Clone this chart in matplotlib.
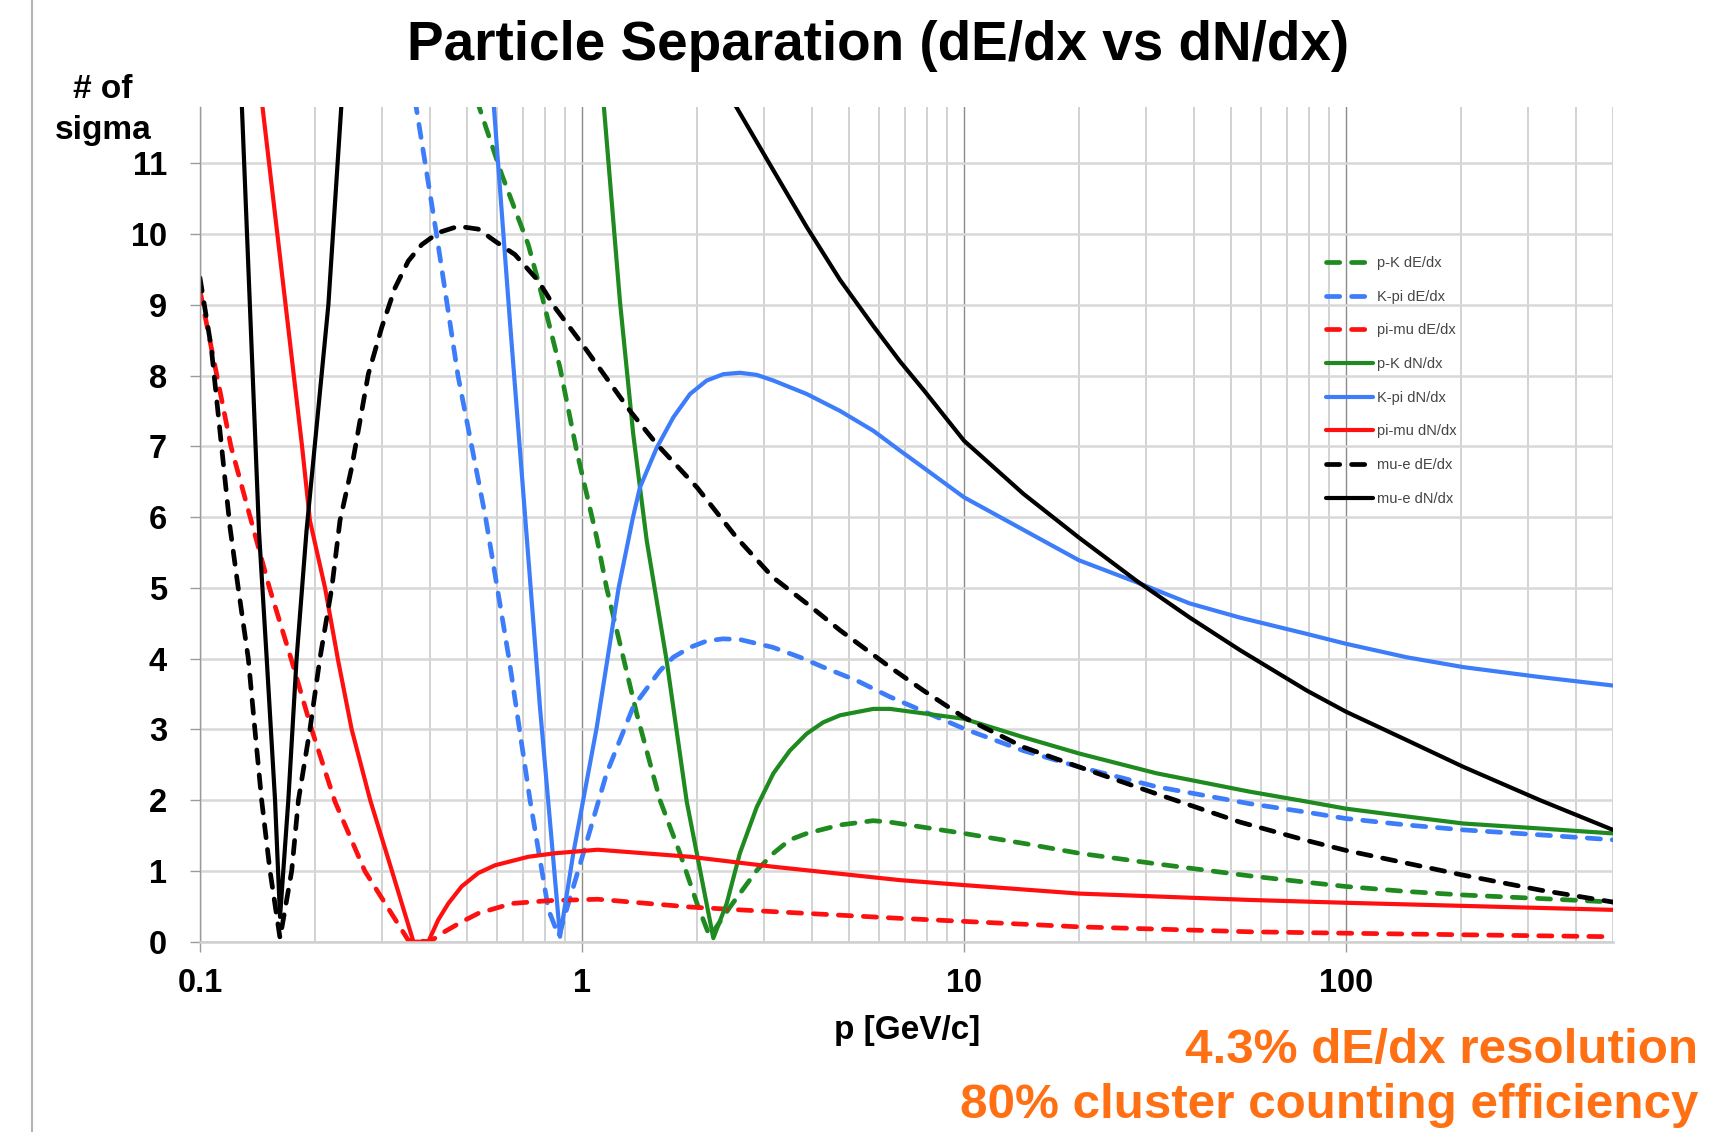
import matplotlib
matplotlib.use("Agg")
import matplotlib.pyplot as plt
from matplotlib.lines import Line2D
from matplotlib.ticker import LogLocator, FixedLocator, NullFormatter

plt.rcParams['font.family'] = ['Liberation Sans', 'DejaVu Sans']

# ---- data: momentum p [GeV/c] and separation [# of sigma]
pK_dEdx_p = [0.53, 0.6166, 0.7235, 0.776, 0.876, 0.968, 1.093, 1.16, 1.391, 1.6, 1.805,
             2.0, 2.16, 2.44, 2.87, 3.17, 3.5, 3.875, 4.74, 5.78, 6.4, 10, 14.3, 20, 31.9,
             56, 78.9, 100, 144, 203, 322, 500]
pK_dEdx_s = [11.9, 10.84, 9.85, 9.24, 8.11, 6.94, 5.71, 5.0, 3.22, 2.0, 1.25,
             0.54, 0.07, 0.49, 1.01, 1.25, 1.44, 1.53, 1.65, 1.71, 1.69, 1.53, 1.39, 1.25, 1.1,
             0.93, 0.84, 0.78, 0.71, 0.66, 0.61, 0.56]

Kpi_dEdx_p = [0.3654, 0.416, 0.4735, 0.559, 0.644, 0.731, 0.817, 0.869, 1.008, 1.16, 1.362,
              1.6, 1.734, 1.92, 2.12, 2.34, 2.592, 3.16, 3.72, 4.28, 5.24, 6.4, 10, 14.3, 20,
              31.9, 56, 78.9, 100, 144, 203, 322, 500]
Kpi_dEdx_s = [11.9, 10.0, 8.0, 6.0, 4.0, 2.0, 0.45, 0.08, 1.25, 2.38, 3.32,
              3.83, 4.02, 4.16, 4.25, 4.28, 4.27, 4.16, 4.02, 3.88, 3.69, 3.46, 3.01, 2.7, 2.47,
              2.19, 1.95, 1.83, 1.74, 1.65, 1.58, 1.51, 1.44]

pimu_dEdx_p = [0.1, 0.1205, 0.152, 0.1738, 0.196, 0.2256, 0.27, 0.351, 0.4, 0.43, 0.484,
               0.535, 0.655, 0.817, 1.1, 1.92, 2.59, 6.8, 20, 56, 100, 500]
pimu_dEdx_s = [9.2, 7.0, 5.0, 3.97, 3.0, 1.98, 1.0, 0.02, 0.0, 0.12, 0.28,
               0.4, 0.54, 0.58, 0.6, 0.49, 0.45, 0.33, 0.21, 0.14, 0.12, 0.07]

pK_dNdx_p = [1.137, 1.257, 1.362, 1.477, 1.666, 1.88, 2.077, 2.207, 2.392, 2.59, 2.866,
             3.17, 3.5, 3.875, 4.28, 4.74, 5.79, 6.4, 10, 14.3, 20, 31.9, 56, 78.9, 100,
             144, 203, 322, 500]
pK_dNdx_s = [11.9, 9.05, 7.17, 5.67, 3.97, 1.98, 0.78, 0.05, 0.54, 1.25, 1.9,
             2.38, 2.7, 2.94, 3.1, 3.2, 3.29, 3.29, 3.15, 2.89, 2.66, 2.38, 2.12, 1.98, 1.88,
             1.77, 1.67, 1.6, 1.53]

Kpi_dNdx_p = [0.586, 0.648, 0.71, 0.776, 0.8245, 0.876, 0.949, 1.093, 1.247, 1.36, 1.418,
              1.569, 1.734, 1.918, 2.12, 2.344, 2.592, 2.866, 3.17, 3.875, 4.74, 5.79, 6.8,
              7.83, 10, 20, 28.3, 39.0, 52.8, 78.9, 100, 144, 203, 322, 500]
Kpi_dNdx_s = [11.9, 8.75, 6.0, 3.32, 1.7, 0.07, 1.25, 3.03, 5.0, 6.0, 6.42,
              6.98, 7.41, 7.74, 7.93, 8.02, 8.04, 8.01, 7.93, 7.74, 7.5, 7.22, 6.94,
              6.7, 6.28, 5.39, 5.08, 4.78, 4.58, 4.35, 4.21, 4.02, 3.88, 3.74, 3.62]

pimu_dNdx_p = [0.145, 0.1594, 0.185, 0.194, 0.2125, 0.23, 0.2495, 0.279, 0.318, 0.362,
               0.396, 0.4205, 0.4467, 0.484, 0.535, 0.592, 0.7235, 0.85, 1.1, 1.92, 3.16,
               6.8, 10, 20, 56, 100, 500]
pimu_dNdx_s = [11.9, 10.0, 7.0, 5.95, 5.0, 3.97, 3.0, 2.0, 1.0, 0.0,
               0.0, 0.31, 0.54, 0.78, 0.97, 1.08, 1.2, 1.25, 1.3, 1.2, 1.06,
               0.87, 0.8, 0.68, 0.59, 0.55, 0.45]

mue_dEdx_p = [0.1, 0.107, 0.1198, 0.1259, 0.1338, 0.1392, 0.145, 0.1525, 0.162,
              0.1738, 0.181, 0.194, 0.206, 0.2213, 0.2325, 0.2495, 0.2758, 0.299, 0.324,
              0.351, 0.3805, 0.4205, 0.4745, 0.535, 0.592, 0.6675, 0.768, 0.85, 1.0, 1.336,
              1.57, 2.0, 2.54, 3.16, 3.875, 4.74, 6.4, 7.83, 10, 14.3, 20, 31.9, 52.8, 78.9,
              100, 144, 203, 322, 500]
mue_dEdx_s = [9.38, 8.4, 5.86, 5.0, 4.0, 3.0, 2.0, 1.0, 0.05,
              1.0, 2.0, 3.0, 4.0, 5.0, 5.95, 6.7, 8.02, 8.68, 9.24,
              9.62, 9.85, 10.02, 10.11, 10.07, 9.9, 9.71, 9.34, 8.96, 8.45, 7.5,
              7.03, 6.42, 5.71, 5.15, 4.78, 4.4, 3.88, 3.55, 3.17, 2.75, 2.47, 2.09, 1.69, 1.43,
              1.29, 1.11, 0.94, 0.73, 0.56]

# mu-e dN/dx goes off scale between the two branches
mue_dNdx_low_p = [0.1285, 0.1427, 0.1495, 0.1572, 0.162, 0.1703, 0.179, 0.19, 0.2168, 0.235]
mue_dNdx_low_s = [11.9, 5.8, 4.0, 2.0, 0.35, 2.0, 4.0, 5.8, 9.0, 11.9]
mue_dNdx_high_p = [2.47, 3.17, 3.875, 4.74, 5.79, 6.8, 7.83, 10, 14.3, 20, 28.3, 39.0, 52.8,
                   78.9, 100, 144, 203, 322, 500]
mue_dNdx_high_s = [11.9, 10.9, 10.1, 9.35, 8.7, 8.2, 7.8, 7.08, 6.33, 5.71, 5.1, 4.58, 4.12,
                   3.55, 3.25, 2.85, 2.47, 2.0, 1.58]

x_ticks = [0.1, 1, 10, 100]
x_tick_labels = ['0.1', '1', '10', '100']
y_ticks = list(range(0, 12))

GREEN = '#1f8a1f'
BLUE = '#3d7dfa'
RED = '#ff1010'
BLACK = '#000000'
DASH = (0, (2.8, 2.5))

W, H = 1711, 1132
fig = plt.figure(figsize=(W / 100, H / 100), dpi=100)
ax = fig.add_axes([200 / W, 1 - 941.7 / H, (1613 - 200) / W, (941.7 - 106.7) / H])

dkw = dict(lw=3.4, linestyle=DASH, dash_capstyle='round', dash_joinstyle='round')
skw = dict(lw=3.0, solid_capstyle='round', solid_joinstyle='round')

ax.plot(pK_dEdx_p, pK_dEdx_s, color=GREEN, label='p-K dE/dx', **dkw)
ax.plot(Kpi_dEdx_p, Kpi_dEdx_s, color=BLUE, label='K-pi dE/dx', **dkw)
ax.plot(pimu_dEdx_p, pimu_dEdx_s, color=RED, label='pi-mu dE/dx', **dkw)
ax.plot(pK_dNdx_p, pK_dNdx_s, color=GREEN, label='p-K dN/dx', **skw)
ax.plot(Kpi_dNdx_p, Kpi_dNdx_s, color=BLUE, label='K-pi dN/dx', **skw)
ax.plot(pimu_dNdx_p, pimu_dNdx_s, color=RED, label='pi-mu dN/dx', **skw)
ax.plot(mue_dEdx_p, mue_dEdx_s, color=BLACK, label='mu-e dE/dx', **dkw)
ax.plot(mue_dNdx_low_p, mue_dNdx_low_s, color=BLACK, label='mu-e dN/dx', **skw)
ax.plot(mue_dNdx_high_p, mue_dNdx_high_s, color=BLACK, **skw)

ax.set_xscale('log')
ax.set_xlim(0.1, 500)
ax.set_ylim(0, 11.8)

ax.xaxis.set_major_locator(FixedLocator(x_ticks))
ax.set_xticklabels(x_tick_labels)
ax.xaxis.set_minor_locator(LogLocator(base=10, subs=range(2, 10)))
ax.xaxis.set_minor_formatter(NullFormatter())
ax.set_yticks(y_ticks)

for lab in ax.get_xticklabels() + ax.get_yticklabels():
    lab.set_fontweight('bold')
ax.tick_params(axis='both', which='major', labelsize=23.5, length=7.2, width=1.0,
               color='#9a9a9a', direction='out')
ax.tick_params(axis='y', pad=16.5)
ax.tick_params(axis='x', pad=12)
ax.tick_params(axis='x', which='minor', length=0)

ax.grid(True, axis='y', color='#d8d8d8', lw=1.8)
ax.grid(True, axis='x', which='minor', color='#cfcfcf', lw=1.3)
ax.grid(True, axis='x', which='major', color='#8a8a8a', lw=1.0)
ax.set_axisbelow(True)

for side in ['top', 'right']:
    ax.spines[side].set_visible(False)
ax.spines['left'].set_color('#9a9a9a')
ax.spines['left'].set_linewidth(1.0)
ax.spines['bottom'].set_color('#cfcfcf')
ax.spines['bottom'].set_linewidth(1.8)

leg = ax.legend(loc='upper left', bbox_to_anchor=(1326 / W, 1 - 256 / H),
                bbox_transform=fig.transFigure, frameon=False, fontsize=10.5,
                labelspacing=1.35, handlelength=3.2, handletextpad=0.3,
                borderpad=0, borderaxespad=0)
for t in leg.get_texts():
    t.set_color('#444444')

fig.text(878 / W, 1 - 46 / H, 'Particle Separation (dE/dx vs dN/dx)',
         ha='center', va='center', fontsize=39.5, fontweight='bold')
fig.text(103 / W, 1 - 110 / H, '# of\nsigma', ha='center', va='center',
         fontsize=24, fontweight='bold', linespacing=1.4)
fig.text(907 / W, 1 - 1030 / H, 'p [GeV/c]', ha='center', va='center',
         fontsize=24, fontweight='bold')
fig.text(1698 / W, 1 - 1050 / H, '4.3% dE/dx resolution', ha='right', va='center',
         fontsize=35.6, fontweight='bold', color='#ff7014')
fig.text(1698 / W, 1 - 1105 / H, '80% cluster counting efficiency', ha='right',
         va='center', fontsize=35.6, fontweight='bold', color='#ff7014')

# slide border on the left
fig.add_artist(Line2D([32 / W, 32 / W], [0, 1], color='#b4b4b4', lw=1.5))

fig.savefig('out.png', dpi=100)
